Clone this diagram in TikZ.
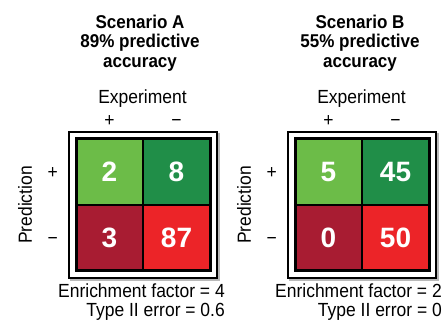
\documentclass[tikz,border=0pt]{standalone}
\usepackage{fontspec}
\setmainfont{Liberation Sans}[FakeStretch=0.92]
\newfontfamily\cellfont{Liberation Sans}
\usetikzlibrary{positioning}

\definecolor{tpgreen}{RGB}{108,188,72}
\definecolor{fpgreen}{RGB}{32,142,72}
\definecolor{fnred}{RGB}{168,28,50}
\definecolor{tnred}{RGB}{236,36,40}

\begin{document}
\begin{tikzpicture}[
                    x=1pt, y=1pt,
                    node distance=0pt,
                    cell/.style={draw=black, line width=1.5pt, minimum width=67pt,
                                 minimum height=66pt, inner sep=0pt, outer sep=0pt,
                                 text=white, font=\cellfont\bfseries\fontsize{28}{28}\selectfont},
                    title/.style={align=center, inner sep=0pt,
                                  font=\bfseries\fontsize{18.5}{19.3}\selectfont},
                    lbl/.style={inner sep=0pt, font=\fontsize{19}{19}\selectfont},
                    sign/.style={lbl, text height=13pt, text depth=0pt}
                ]
                \useasboundingbox (0,0) rectangle (443,323);

                % scenario A
                \node[title] (titleA) at (140,308) [anchor=north] {Scenario A\\89\% predictive\\accuracy};
                \node[lbl, anchor=base] (expA) at (142.5,219) {Experiment};
                \node[cell, fill=tpgreen] (A11) at (109.5,151) {2};
                \node[cell, fill=fpgreen, right=of A11] (A12) {8};
                \node[cell, fill=fnred,   below=of A11] (A21) {3};
                \node[cell, fill=tnred,   below=of A12] (A22) {87};
                \node[sign, above=12pt of A11] (colpA) {+};
                \node[sign, above=12pt of A12] (colmA) {−};
                \node[sign, left=18pt of A11]  (rowpA) {+};
                \node[sign, left=18pt of A21]  (rowmA) {−};
                \node[lbl, rotate=90] (predA) at (25,118) {Prediction};
                \draw[line width=3pt] (A11.north west) rectangle (A22.south east);
                \draw[gray!55, line width=1.5pt]
                    ([shift={(-6,-8.8)}]A21.south west) -- ([shift={(8.8,-8.8)}]A22.south east)
                    -- ([shift={(8.8,6)}]A12.north east);
                \draw[line width=2pt] ([shift={(-7,7)}]A11.north west) rectangle ([shift={(7,-7)}]A22.south east);
                \node[lbl, anchor=base east] (efA) at (225,25) {Enrichment factor = 4};
                \node[lbl, anchor=base east] (erA) at (225,6)  {Type II error = 0.6};

                % scenario B
                \node[title] (titleB) at (360,308) [anchor=north] {Scenario B\\55\% predictive\\accuracy};
                \node[lbl, anchor=base] (expB) at (361.5,219) {Experiment};
                \node[cell, fill=tpgreen] (B11) at (328.5,151) {5};
                \node[cell, fill=fpgreen, right=of B11] (B12) {45};
                \node[cell, fill=fnred,   below=of B11] (B21) {0};
                \node[cell, fill=tnred,   below=of B12] (B22) {50};
                \node[sign, above=12pt of B11] (colpB) {+};
                \node[sign, above=12pt of B12] (colmB) {−};
                \node[sign, left=18pt of B11]  (rowpB) {+};
                \node[sign, left=18pt of B21]  (rowmB) {−};
                \node[lbl, rotate=90] (predB) at (244,118) {Prediction};
                \draw[line width=3pt] (B11.north west) rectangle (B22.south east);
                \draw[gray!55, line width=1.5pt]
                    ([shift={(-6,-8.8)}]B21.south west) -- ([shift={(8.8,-8.8)}]B22.south east)
                    -- ([shift={(8.8,6)}]B12.north east);
                \draw[line width=2pt] ([shift={(-7,7)}]B11.north west) rectangle ([shift={(7,-7)}]B22.south east);
                \node[lbl, anchor=base east] (efB) at (442,25) {Enrichment factor = 2};
                \node[lbl, anchor=base east] (erB) at (442,6)  {Type II error = 0};
            \end{tikzpicture}
\end{document}
